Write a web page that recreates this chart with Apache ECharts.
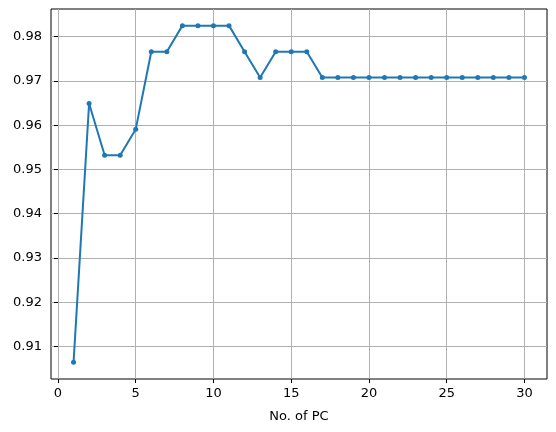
<!DOCTYPE html>
<html><head><meta charset="utf-8">
<script src="https://cdn.jsdelivr.net/npm/echarts@6/dist/echarts.min.js"></script>
<style>html,body{margin:0;padding:0;background:#fff}#c{width:556px;height:432px}</style>
</head><body><div id="c"></div>
<script>
const nPC = [1,2,3,4,5,6,7,8,9,10,11,12,13,14,15,16,17,18,19,20,21,22,23,24,25,26,27,28,29,30];
const accuracy = [0.9064,0.9649,0.9532,0.9532,0.9591,0.9766,0.9766,0.9825,0.9825,0.9825,0.9825,0.9766,0.9708,0.9766,0.9766,0.9766,0.9708,0.9708,0.9708,0.9708,0.9708,0.9708,0.9708,0.9708,0.9708,0.9708,0.9708,0.9708,0.9708,0.9708];
const xTicks = [0,5,10,15,20,25,30];
const yTicks = [0.91,0.92,0.93,0.94,0.95,0.96,0.97,0.98];
const xLabel = 'No. of PC';

const chart = echarts.init(document.getElementById('c'), null, {renderer:'canvas'});
const font = 'DejaVu Sans';
chart.setOption({
  animation:false,
  grid:{left:51, top:9, right:9, bottom:53, show:true, borderColor:'#000', borderWidth:1, backgroundColor:'transparent'},
  xAxis:{
    type:'value', min:-0.45, max:31.45,
    name:xLabel, nameLocation:'middle', nameGap:31,
    nameTextStyle:{color:'#000', fontFamily:font, fontSize:13},
    axisLine:{show:false},
    axisTick:{show:true, length:4, inside:false, customValues:xTicks, lineStyle:{color:'#000', width:1}},
    axisLabel:{customValues:xTicks, color:'#000', fontFamily:font, fontSize:13, margin:8},
    splitLine:{show:true, lineStyle:{color:'#b0b0b0', width:1}}
  },
  yAxis:{
    type:'value', min:0.90263, max:0.98626,
    axisLine:{show:false},
    axisTick:{show:true, length:4, inside:false, customValues:yTicks, lineStyle:{color:'#000', width:1}},
    axisLabel:{customValues:yTicks, color:'#000', fontFamily:font, fontSize:13, margin:9, formatter:v=>v.toFixed(2)},
    splitLine:{show:true, lineStyle:{color:'#b0b0b0', width:1}}
  },
  series:[{
    type:'line',
    data:nPC.map((x,i)=>[x,accuracy[i]]),
    symbol:'circle', symbolSize:5, showSymbol:true,
    lineStyle:{color:'#1f77b4', width:2},
    itemStyle:{color:'#1f77b4'}
  }]
});
</script></body></html>
